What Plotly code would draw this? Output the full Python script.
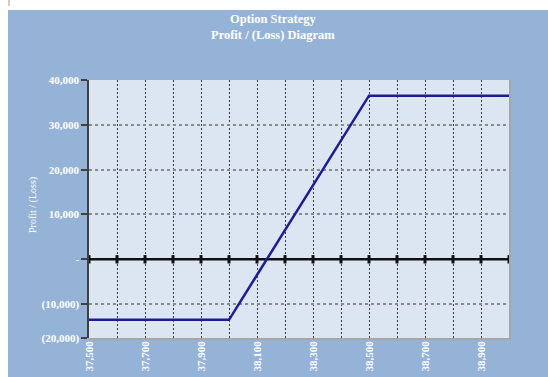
import plotly.graph_objects as go

# Underlying price at expiry and the strategy's profit / (loss) at each level
prices = [37500, 37600, 37700, 37800, 37900, 38000, 38100, 38200,
          38300, 38400, 38500, 38600, 38700, 38800, 38900, 39000]
profit = [-13500, -13500, -13500, -13500, -13500, -13500, -3500, 6500,
          16500, 26500, 36500, 36500, 36500, 36500, 36500, 36500]

# Axis labelling
x_tick_vals = [37500, 37700, 37900, 38100, 38300, 38500, 38700, 38900]
x_tick_text = ["37,500", "37,700", "37,900", "38,100", "38,300", "38,500", "38,700", "38,900"]
y_min, y_max = -17560, 40000
y_tick_vals = [40000, 30000, 20000, 10000, 0, -10000, y_min]
y_tick_text = ["40,000", "30,000", "20,000", "10,000", "-", "(10,000)", "(20,000)"]

OUTER_BG = "#95B3D7"
PLOT_BG = "#DCE6F2"
SERIF = "Liberation Serif"

W, H = 548, 377
ML, MR, MT, MB = 89, 39, 80, 39
PW, PH = W - ML - MR, H - MT - MB


def px_x(p):
    return (p - ML) / PW


def px_y(p):
    return (H - MB - p) / PH


fig = go.Figure()

# Break-even axis with its marker ticks
fig.add_trace(go.Scatter(
    x=prices, y=[0] * len(prices), mode="lines+markers",
    line=dict(color="#111111", width=2.5),
    marker=dict(symbol="line-ns", size=6, line=dict(color="#111111", width=3)),
    hoverinfo="skip", showlegend=False, cliponaxis=False,
))

# Payoff line
fig.add_trace(go.Scatter(
    x=prices, y=profit, mode="lines",
    line=dict(color="#1C1C99", width=2.5),
    showlegend=False,
))

shapes = [
    # white page strips around the chart area
    dict(type="rect", xref="paper", yref="paper", x0=px_x(0), x1=px_x(W + 5),
         y0=px_y(0), y1=px_y(10), fillcolor="white", line_width=0, layer="below"),
    dict(type="rect", xref="paper", yref="paper", x0=px_x(0), x1=px_x(8),
         y0=px_y(0), y1=px_y(H + 5), fillcolor="white", line_width=0, layer="below"),
    dict(type="rect", xref="paper", yref="paper", x0=px_x(8), x1=px_x(10),
         y0=px_y(0), y1=px_y(6), fillcolor="#D0D0D0", line_width=0, layer="below"),
    # plot-area frame on the right and bottom
    dict(type="line", xref="paper", yref="paper", x0=px_x(510), x1=px_x(510),
         y0=px_y(339), y1=1, line=dict(color="#A6A6A6", width=2), layer="above"),
    dict(type="line", xref="paper", yref="paper", x0=0, x1=px_x(511),
         y0=px_y(339), y1=px_y(339), line=dict(color="#A6A6A6", width=2), layer="above"),
]

annotations = [
    dict(text="<b>Option Strategy</b><br><b>Profit / (Loss) Diagram</b>",
         xref="paper", yref="paper", x=px_x(273), y=px_y(27),
         xanchor="center", yanchor="middle", showarrow=False,
         font=dict(family=SERIF, size=12.5, color="white"), align="center"),
    dict(text="Profit / (Loss)", xref="paper", yref="paper",
         x=px_x(33), y=px_y(205), xanchor="center", yanchor="middle",
         textangle=-90, showarrow=False,
         font=dict(family=SERIF, size=10, color="white")),
]

fig.update_layout(
    width=W, height=H,
    margin=dict(l=ML, r=MR, t=MT, b=MB, autoexpand=False),
    paper_bgcolor=OUTER_BG, plot_bgcolor=PLOT_BG,
    shapes=shapes, annotations=annotations,
    showlegend=False,
)

fig.update_xaxes(
    range=[37500, 39000], automargin=False,
    tickmode="array", tickvals=x_tick_vals,
    ticktext=["<b>%s</b>" % t for t in x_tick_text],
    tickangle=-90, ticks="",
    tickfont=dict(family=SERIF, size=11, color="white"),
    showgrid=True, gridcolor="#3A3A3A", griddash="2px,2px", gridwidth=1,
    minor=dict(dtick=100, tick0=37500, showgrid=True, gridcolor="#3A3A3A",
               griddash="2px,2px", gridwidth=1),
    showline=False, zeroline=False,
)

fig.update_yaxes(
    range=[y_min, y_max], automargin=False,
    tickmode="array", tickvals=y_tick_vals,
    ticktext=["<b>%s</b>" % t for t in y_tick_text],
    ticks="outside", ticklen=6, tickcolor="#404040", tickwidth=1.5,
    tickfont=dict(family=SERIF, size=11, color="white"),
    showgrid=True, gridcolor="#8A8A8A", griddash="dot", gridwidth=1.5,
    showline=True, linecolor="#404040", linewidth=1.5,
    zeroline=False,
)

fig.write_html("out.html")
